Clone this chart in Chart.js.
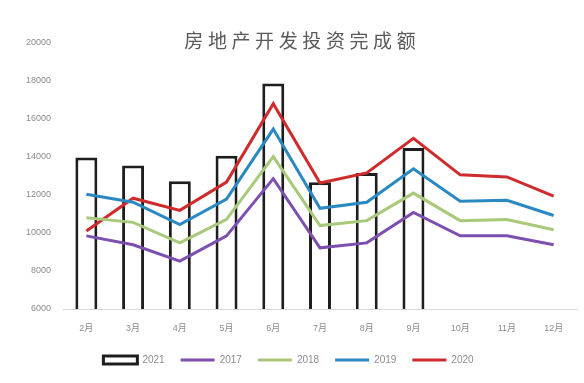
<!DOCTYPE html>
<html>
<head>
<meta charset="utf-8">
<script src="https://cdn.jsdelivr.net/npm/chart.js@4/dist/chart.umd.min.js"></script>
<style>
  html, body { margin: 0; padding: 0; background: #fff; }
  #wrap { width: 584px; height: 383px; }
</style>
</head>
<body>
<div id="wrap"><canvas id="c" width="584" height="383"></canvas></div>
<script>
// 房地产开发投资完成额 (月度, 亿元)
const months = ['2月', '3月', '4月', '5月', '6月', '7月', '8月', '9月', '10月', '11月', '12月'];
const y2021 = [13970, 13550, 12720, 14060, 17870, 12670, 13160, 14480, null, null, null];
const y2017 = [9850, 9380, 8520, 9850, 12860, 9220, 9480, 11080, 9850, 9850, 9380];
const y2018 = [10800, 10560, 9480, 10720, 14020, 10390, 10650, 12100, 10650, 10710, 10170];
const y2019 = [12040, 11620, 10440, 11780, 15470, 11300, 11620, 13380, 11670, 11720, 10920];
const y2020 = [10100, 11830, 11190, 12680, 16800, 12630, 13160, 14980, 13060, 12950, 11940];
const yTicks = [6000, 8000, 10000, 12000, 14000, 16000, 18000, 20000];
const chartTitle = '房地产开发投资完成额';

const tickColor = '#8c8c8c';
const tickFont = { family: 'Liberation Sans, DejaVu Sans, Noto Sans CJK SC', size: 9 };

function lineSet(label, data, color) {
  return {
    type: 'line', label, data, order: 0,
    borderColor: color, backgroundColor: color,
    borderWidth: 3, pointRadius: 0, pointHoverRadius: 0,
    tension: 0, fill: false
  };
}

// Title drawn inside the plot region, letter by letter
const titlePlugin = {
  id: 'plotTitle',
  afterDraw(chart) {
    const ctx = chart.ctx;
    ctx.save();
    ctx.fillStyle = '#595959';
    ctx.font = '19px "Noto Sans CJK SC", sans-serif';
    ctx.textBaseline = 'middle';
    ctx.textAlign = 'center';
    const step = 23.6;
    const cx = 300;
    const n = chartTitle.length;
    for (let i = 0; i < n; i++) {
      ctx.fillText(chartTitle[i], cx + (i - (n - 1) / 2) * step, 41);
    }
    ctx.restore();
  }
};

new Chart(document.getElementById('c'), {
  data: {
    labels: months,
    datasets: [
      {
        type: 'bar', label: '2021', data: y2021, order: 1,
        backgroundColor: '#ffffff', borderColor: '#1e1e1e', borderWidth: 3,
        borderSkipped: false,
        barPercentage: 0.47, categoryPercentage: 1.0
      },
      lineSet('2017', y2017, '#7c4fb0'),
      lineSet('2018', y2018, '#a9c97a'),
      lineSet('2019', y2019, '#2a89c2'),
      lineSet('2020', y2020, '#cf2a2c')
    ]
  },
  options: {
    responsive: false,
    animation: false,
    layout: { padding: { top: 43, right: 7, left: 0, bottom: 8 } },
    plugins: {
      title: { display: false },
      tooltip: { enabled: false },
      legend: {
        position: 'bottom',
        labels: {
          color: tickColor,
          font: { family: 'Liberation Sans, DejaVu Sans', size: 10 },
          usePointStyle: true,
          pointStyleWidth: 34,
          boxHeight: 8,
          padding: 16,
          generateLabels(chart) {
            return chart.data.datasets.map((ds, i) => ({
              text: ds.label,
              datasetIndex: i,
              fillStyle: ds.type === 'bar' ? '#ffffff' : ds.borderColor,
              strokeStyle: ds.borderColor,
              lineWidth: 3,
              pointStyle: ds.type === 'bar' ? 'rect' : 'line',
              fontColor: tickColor,
              hidden: false
            }));
          }
        }
      }
    },
    scales: {
      x: {
        offset: true,
        grid: { display: false, drawTicks: false },
        border: { display: true, color: '#d9d9d9', width: 1 },
        ticks: { color: tickColor, font: tickFont, padding: 14, maxRotation: 0, autoSkip: false },
        afterFit(scale) { scale.height = 30; }
      },
      y: {
        min: 6000, max: 20000,
        afterBuildTicks(scale) { scale.ticks = yTicks.map(v => ({ value: v })); },
        grid: { display: false, drawTicks: false },
        border: { display: false },
        ticks: { color: tickColor, font: tickFont, padding: 12, callback: v => String(v) },
        afterFit(scale) { scale.width = 63; }
      }
    }
  },
  plugins: [titlePlugin]
});
</script>
</body>
</html>
